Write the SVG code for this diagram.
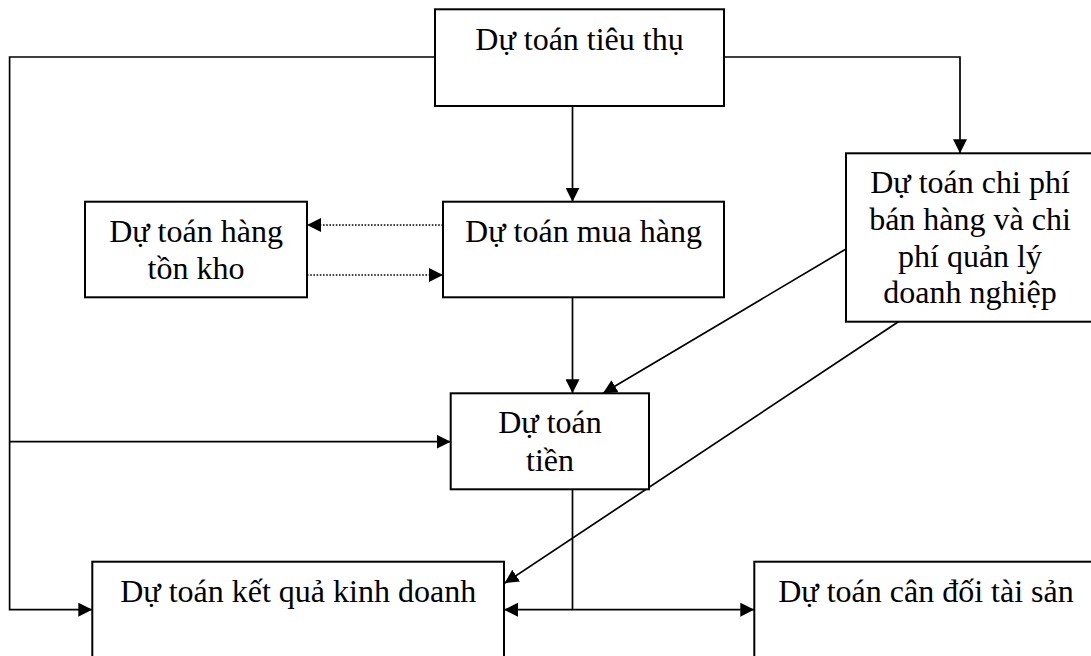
<svg xmlns="http://www.w3.org/2000/svg" width="1091" height="656" viewBox="0 0 1091 656">
  <style>
    .box { fill: #ffffff; stroke: #000000; stroke-width: 2; }
    .lbl { font-family: "Liberation Serif", "Times New Roman", serif; font-size: 32px; fill: #000000; text-anchor: middle; }
    .wire { fill: none; stroke: #000000; stroke-width: 1.7; }
    .dot { fill: none; stroke: #000000; stroke-width: 1.6; stroke-dasharray: 1.6 1.6; }
  </style>
  <defs>
    <marker id="head" markerUnits="userSpaceOnUse" markerWidth="14" markerHeight="14" refX="14" refY="7" orient="auto-start-reverse">
      <path d="M0,0 L14,7 L0,14 z" fill="#000000"/>
    </marker>
  </defs>

  <rect width="1091" height="656" fill="#ffffff"/>

  <!-- connectors -->
  <g id="connectors">
    <path class="wire" d="M435,57 H9.6 V609.7 H92.3" marker-end="url(#head)"/>
    <path class="wire" d="M9.6,441.7 H450.7" marker-end="url(#head)"/>
    <path class="wire" d="M724,57 H960 V153.3" marker-end="url(#head)"/>
    <path class="wire" d="M572.5,106 V201.7" marker-end="url(#head)"/>
    <path class="wire" d="M572.5,297.3 V393.3" marker-end="url(#head)"/>
    <path class="wire" d="M846,249 L603,393.3" marker-end="url(#head)"/>
    <path class="wire" d="M898.4,321.7 L504.5,583.3" marker-end="url(#head)"/>
    <path class="wire" d="M572.5,489.3 V609.7"/>
    <path class="wire" d="M504,609.7 H754.3" marker-start="url(#head)" marker-end="url(#head)"/>
    <path class="dot" d="M443,225 H307" marker-end="url(#head)"/>
    <path class="dot" d="M307,275 H443" marker-end="url(#head)"/>
  </g>

  <g id="tieu-thu">
    <rect class="box" x="435" y="9.3" width="289" height="96.7"/>
    <text class="lbl" x="579.5" y="50">Dự toán tiêu thụ</text>
  </g>

  <g id="mua-hang">
    <rect class="box" x="443" y="201.7" width="281" height="95.6"/>
    <text class="lbl" x="583.5" y="242">Dự toán mua hàng</text>
  </g>

  <g id="ton-kho">
    <rect class="box" x="85" y="201.7" width="222" height="95.6"/>
    <text class="lbl" x="196" y="242">Dự toán hàng</text>
    <text class="lbl" x="196" y="279.3">tồn kho</text>
  </g>

  <g id="chi-phi">
    <rect class="box" x="846" y="153.3" width="248" height="168.4"/>
    <text class="lbl" x="970" y="193.3">Dự toán chi phí</text>
    <text class="lbl" x="970" y="230">bán hàng và chi</text>
    <text class="lbl" x="970" y="266.5">phí quản lý</text>
    <text class="lbl" x="970" y="303">doanh nghiệp</text>
  </g>

  <g id="tien">
    <rect class="box" x="450.7" y="393.3" width="198.3" height="96"/>
    <text class="lbl" x="550" y="433">Dự toán</text>
    <text class="lbl" x="550" y="470.7">tiền</text>
  </g>

  <g id="ket-qua">
    <rect class="box" x="92.3" y="561.7" width="411.7" height="110"/>
    <text class="lbl" x="298.2" y="601.7">Dự toán kết quả kinh doanh</text>
  </g>

  <g id="can-doi">
    <rect class="box" x="754.3" y="561.7" width="343" height="110"/>
    <text class="lbl" x="926" y="601.7">Dự toán cân đối tài sản</text>
  </g>
</svg>
